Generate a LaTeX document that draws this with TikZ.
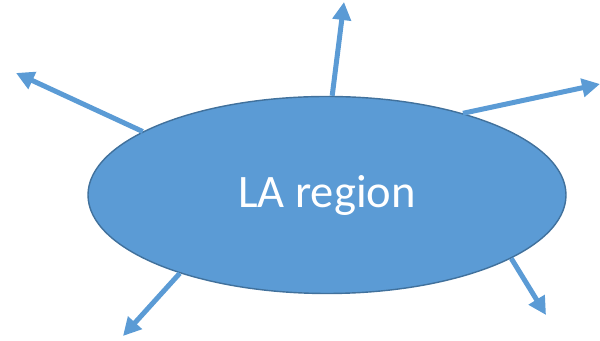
\documentclass[tikz,border=0pt]{standalone}
\usepackage{fontspec}
\setsansfont{Carlito}
\usetikzlibrary{shapes,arrows.meta,positioning}
\definecolor{lablue}{HTML}{5B9BD5}
\definecolor{laedge}{HTML}{41719C}
\begin{document}
\begin{tikzpicture}
									\useasboundingbox (0,0) rectangle (12,6.82);
									\tikzset{ray/.style={draw=lablue,line width=0.1cm,-{Triangle[length=0.36cm,width=0.36cm]}}}
									\node[ellipse,draw=laedge,line width=0.8pt,fill=lablue,minimum width=9.56cm,minimum height=3.94cm,inner sep=0pt,font=\sffamily\fontsize{26.5}{30}\selectfont,text=white](region) at (6.54,2.92){LA region};
									\coordinate (T1) at (6.88,6.78);
									\coordinate (T2) at (0.32,5.36);
									\coordinate (T3) at (12.0,5.14);
									\coordinate (T4) at (2.46,0.10);
									\coordinate (T5) at (10.92,0.52);
									\foreach \a [count=\n] in
									{87,161,31,208,341}
										\draw[ray] (region.\a) -- (T\n);
								\end{tikzpicture}
\end{document}
